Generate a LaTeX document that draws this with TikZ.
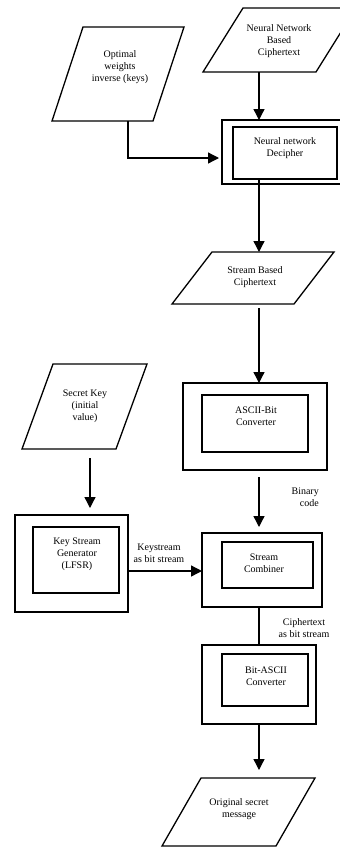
\documentclass[tikz,border=0pt]{standalone}
\usepackage{fontspec}
\setmainfont{Liberation Serif}
\usetikzlibrary{arrows.meta}

\tikzset{
  outline/.style={draw=black, line width=1.3pt, line join=miter},
  shapebox/.style={inner sep=0pt, outer sep=0pt},
  boxframe/.style={draw=black, line width=1.3pt, inner sep=0pt, outer sep=0pt},
  lbl/.style={font=\fontsize{10}{12}\selectfont, align=center, inner sep=0pt},
  flow/.style={line width=1.3pt, -{Triangle[length=11pt,width=11pt]}},
  plain/.style={line width=1.3pt},
}

% input/output parallelogram: name, centre x, centre y, width, height, half slant
\newcommand\ioshape[6]{%
  \node[shapebox, minimum width=#4pt, minimum height=#5pt] (#1) at (#2,#3) {};
  \draw[outline] ([xshift=#6pt]#1.north west) -- ([xshift=#6pt]#1.north east)
     -- ([xshift=-#6pt]#1.south east) -- ([xshift=-#6pt]#1.south west) -- cycle;}

% framed process box: name, centre x, centre y, width, height
\newcommand\procbox[5]{%
  \node[boxframe, minimum width=#4pt, minimum height=#5pt] (#1) at (#2,#3) {};}

\begin{document}
\begin{tikzpicture}[x=1pt,y=-1pt]
\useasboundingbox (0,0) rectangle (340,847);
\clip (0,0) rectangle (340,847);

% column and row guides for the connectors
\coordinate (spine) at (259,0);
\coordinate (keycol) at (90,0);
\coordinate (optbend) at (128,158);
\coordinate (ksrow) at (0,571);

% inputs and outputs
\ioshape{opt}{118}{74}{101}{94}{15.5}
\node[lbl] (optT) at (120,67.5) {Optimal\\weights\\inverse (keys)};

\ioshape{nnc}{279.5}{40}{113}{64}{20}
\node[lbl] (nncT) at (279,41) {Neural Network\\Based\\Ciphertext};

\ioshape{sbc}{253}{278}{122}{52}{20}
\node[lbl] (sbcT) at (255,277.5) {Stream Based\\Ciphertext};

\ioshape{sk}{84.5}{406.5}{94}{85}{15.5}
\node[lbl] (skT) at (85,406.5) {Secret Key\\(initial\\value)};

\ioshape{osm}{238.5}{812}{114}{68}{19.5}
\node[lbl] (osmT) at (239,809) {Original secret\\message};

% processing blocks
\procbox{decout}{282}{152}{120}{64}
\procbox{decin}{285}{153}{104}{52}
\node[lbl] (decT) at (285,148.5) {Neural network\\Decipher};

\procbox{asciiout}{255}{426.5}{144}{87}
\procbox{asciiin}{255}{423.5}{106}{57}
\node[lbl] (asciiT) at (256,416.5) {ASCII-Bit\\Converter};

\procbox{ksgout}{71.5}{563.5}{113}{97}
\procbox{ksgin}{76}{560}{86}{66}
\node[lbl] (ksgT) at (77,554.5) {Key Stream\\Generator\\(LFSR)};

\procbox{combout}{262}{570}{120}{74}
\procbox{combin}{267.5}{565}{91}{46}
\node[lbl] (combT) at (264,563) {Stream\\Combiner};

\procbox{baout}{259}{684.5}{114}{79}
\procbox{bain}{265}{680}{86}{52}
\node[lbl] (baT) at (266,676) {Bit-ASCII\\Converter};

% connector labels
\node[lbl, align=right, anchor=east] (binT) at (319,497.5) {Binary\\code};
\node[lbl] (ksT) at (159,553) {Keystream\\as bit stream};
\node[lbl] (ctT) at (304,628) {Ciphertext\\as bit stream};

% connectors
\draw[flow] (nnc.south -| spine) -- (decout.north -| spine);
\draw[flow, shorten >=3pt] (opt.south -| optbend) |- (decout.west |- optbend);
\draw[flow] (decin.south -| spine) -- (sbc.north -| spine);
\draw[flow, shorten <=4pt] (sbc.south -| spine) -- (asciiout.north -| spine);
\draw[flow, shorten <=7pt, shorten >=6pt] (asciiout.south -| spine) -- (combout.north -| spine);
\draw[flow, shorten <=9pt, shorten >=7pt] (sk.south -| keycol) -- (ksgout.north -| keycol);
\draw[flow] (ksgout.east |- ksrow) -- (combout.west |- ksrow);
\draw[plain] (combout.south -| spine) -- (baout.north -| spine);
\draw[flow, shorten >=8pt] (baout.south -| spine) -- (osm.north -| spine);
\end{tikzpicture}
\end{document}
